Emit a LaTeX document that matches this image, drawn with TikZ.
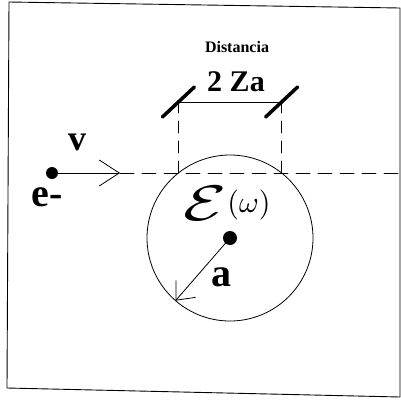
\documentclass[tikz,border=0pt]{standalone}
\usepackage{fontspec}
\setmainfont{Liberation Serif}
\usetikzlibrary{arrows.meta,calc}

\begin{document}
\begin{tikzpicture}[x=1pt, y=-1pt, line cap=round, line join=round]
  \def\R{83}
  \def\ang{131}
  \def\h{65}
  \useasboundingbox (0,0) rectangle (401,399);

  % marco
  \draw[line width=0.9pt] (9,2) -- (400,8) -- (400,397) -- (7,388) -- cycle;

  % circulo
  \coordinate (O) at (230,238);
  \draw[line width=0.8pt] (O) circle (\R);

  % electron y trayectoria
  \coordinate (E) at (52,173);
  \coordinate (T) at (120,173);
  \coordinate (F) at (400,173);
  \draw[line width=0.8pt, -{Straight Barb[length=20pt,width=26pt]}] (E) -- (T);
  \draw[line width=0.8pt, dash pattern=on 14pt off 8pt] (T) -- (F);
  \fill (E) circle (6);
  \node[font=\bfseries\fontsize{36}{36}\selectfont] (v) at (77,142) {v};
  \node[font=\bfseries\fontsize{40}{40}\selectfont] (e) at (47,197) {e-};

  % cuerda y cota 2Za
  \coordinate (PA) at ({230-sqrt(\R*\R-\h*\h)},173);
  \coordinate (PB) at ({230+sqrt(\R*\R-\h*\h)},173);
  \coordinate (QA) at (PA |- 0,102);
  \coordinate (QB) at (PB |- 0,102);
  \draw[line width=0.8pt, dash pattern=on 12pt off 8pt] (PA) -- (QA);
  \draw[line width=0.8pt, dash pattern=on 12pt off 8pt] (PB) -- (QB);
  \draw[line width=0.8pt] (QA) -- (QB);
  \draw[line width=3.5pt] (QA) ++(-16,15) -- ++(32,-30);
  \draw[line width=3.5pt] (QB) ++(-16,15) -- ++(32,-30);
  \node[font=\bfseries\fontsize{30}{30}\selectfont] (za) at (236,82) {2 Za};
  \node[font=\bfseries\fontsize{16}{16}\selectfont] (dist) at (237,47) {Distancia};

  % epsilon(omega)
  \node[xscale=7, yscale=5, inner sep=0pt] (eps) at (205,203) {$\mathcal{E}$};
  \node[scale=3, inner sep=0pt] (om) at (249,205) {$(\omega)$};

  % radio a
  \coordinate (R) at ($(O)+(\ang:\R)$);
  \draw[line width=0.8pt, -{Straight Barb[length=15pt,width=26pt]}] (O) -- (R);
  \fill (O) circle (7);
  \node[font=\bfseries\fontsize{40}{40}\selectfont] (a) at (221,277) {a};
\end{tikzpicture}
\end{document}
